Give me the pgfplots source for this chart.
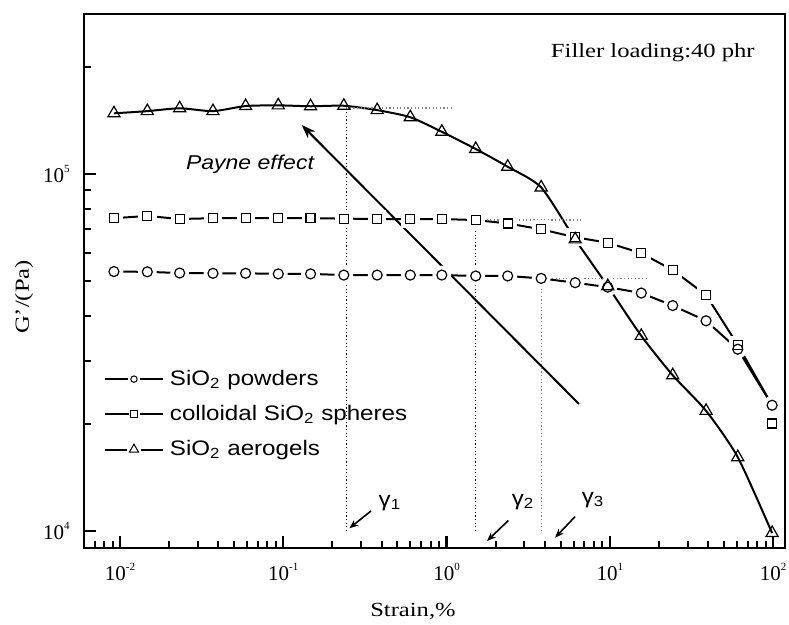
\documentclass[border=0pt]{standalone}
\usepackage{fontspec}
\setmainfont{Liberation Serif}
\newfontfamily\tickfont{Liberation Serif}
\newfontfamily\sansf{Liberation Sans}[FakeStretch=1.15]
\usepackage{pgfplots}
\usepackage{pgfplotstable}
\pgfplotsset{compat=1.18}
\usetikzlibrary{arrows.meta,calc}

\newcommand\pw[1]{\raisebox{4.9pt}{\fontsize{5.5}{6}\selectfont #1}}
\newcommand\wide[1]{\scalebox{1.23}[1]{#1}}

% strain (%) vs G' (Pa)
\pgfplotstableread{
x       y
0.00918 5.33e4
0.0147  5.32e4
0.0232  5.28e4
0.0371  5.27e4
0.0588  5.27e4
0.0932  5.25e4
0.147   5.25e4
0.235   5.21e4
0.376   5.21e4
0.600   5.21e4
0.936   5.21e4
1.51    5.18e4
2.37    5.18e4
3.80    5.10e4
6.14    4.96e4
9.72    4.82e4
15.6    4.64e4
24.3    4.28e4
38.9    3.88e4
60.8    3.23e4
98.7    2.25e4
}\powders

\pgfplotstableread{
x       y
0.00918 7.52e4
0.0147  7.63e4
0.0232  7.48e4
0.0371  7.52e4
0.0588  7.52e4
0.0932  7.52e4
0.147   7.52e4
0.235   7.50e4
0.376   7.48e4
0.600   7.48e4
0.936   7.48e4
1.51    7.43e4
2.37    7.27e4
3.80    7.00e4
6.14    6.65e4
9.72    6.42e4
15.6    6.00e4
24.3    5.38e4
38.9    4.58e4
60.8    3.32e4
98.7    2.00e4
}\spheres

\pgfplotstableread{
x       y
0.00918 1.479e5
0.0147  1.500e5
0.0232  1.528e5
0.0371  1.500e5
0.0588  1.550e5
0.0932  1.557e5
0.147   1.548e5
0.235   1.553e5
0.376   1.510e5
0.600   1.442e5
0.936   1.313e5
1.51    1.175e5
2.37    1.048e5
3.80    9.17e4
6.14    6.56e4
9.72    4.85e4
15.6    3.52e4
24.3    2.73e4
38.9    2.17e4
60.8    1.61e4
98.7    9.87e3
}\aerogels

\begin{document}
\begin{tikzpicture}
\begin{axis}[
  scale only axis, width=350.5pt, height=267pt,
  xmode=log, ymode=log,
  xmin=0.006018, xmax=118.4, ymin=8960, ymax=2.807e5,
  axis line style={line width=1.3pt},
  tick align=inside, tick pos=left,
  xtick={0.01,0.1,1,10,100},
  xticklabels={10\pw{-2},10\pw{-1},10\pw{0},10\pw{1},10\pw{2}},
  minor xtick={0.007,0.008,0.009,0.02,0.03,0.04,0.05,0.06,0.07,0.08,0.09,
    0.2,0.3,0.4,0.5,0.6,0.7,0.8,0.9,2,3,4,5,6,7,8,9,20,30,40,50,60,70,80,90},
  ytick={1e4,1e5},
  yticklabels={10\pw{4},10\pw{5}},
  minor ytick={2e4,3e4,4e4,5e4,6e4,7e4,8e4,9e4,2e5},
  major tick length=6pt, minor tick length=3.5pt,
  every major tick/.append style={line width=1.2pt, black},
  every minor tick/.append style={line width=1pt, black},
  xticklabel style={font=\tickfont\fontsize{10.5}{12}\selectfont, inner sep=0pt, yshift=-7.5pt},
  yticklabel style={font=\tickfont\fontsize{10.5}{12}\selectfont, inner sep=0pt, xshift=-7pt},
  xlabel={\wide{Strain,\%}},
  xlabel style={at={(axis description cs:0.4693,-0.1287)}, anchor=base, inner sep=0pt,
    font=\fontsize{10}{12}\selectfont},
  ylabel={\wide{G'/(Pa)}},
  ylabel style={at={(axis description cs:-0.0856,0.470)}, anchor=center, inner sep=0pt,
    font=\fontsize{10}{12}\selectfont},
  legend style={draw=none, fill=none, at={(axis description cs:0.0285,0.3333)},
    anchor=north west, inner sep=0pt, outer sep=0pt, row sep=8.5pt, column sep=3pt,
    font=\sansf\fontsize{10.5}{12}\selectfont, nodes={inner sep=0pt}},
  legend cell align=left,
]

% colloidal spheres
\addplot[black, line width=1pt, forget plot] table[skip coords between index={20}{21}] {\spheres};
\addplot[black, line width=1pt, forget plot] coordinates {(60.8,3.32e4) (98.7,2.25e4)};
\addplot[only marks, mark=square*, mark size=4.3pt, white, forget plot] table {\spheres};

% powders
\addplot[black, line width=1pt, forget plot] table {\powders};
\addplot[only marks, mark=*, mark size=4.5pt, white, forget plot] table {\powders};

\addplot[only marks, mark=o, mark size=2.5pt, black, mark options={fill=white, line width=0.6pt},
  legend image code/.code={
    \draw[line width=1pt] (0pt,0pt) -- (29pt,0pt);
    \fill[white] (14.5pt,0pt) circle (2.8pt);
    \draw[line width=0.5pt, fill=white] (14.5pt,0pt) circle (1.6pt);}
] table {\powders};
\addlegendentry{SiO\textsubscript{2} powders}

\addplot[only marks, mark=square, mark size=2.25pt, black, mark options={fill=white, line width=0.6pt},
  legend image code/.code={
    \draw[line width=1pt] (0pt,0pt) -- (29pt,0pt);
    \fill[white] (12pt,-2.7pt) rectangle (17pt,2.7pt);
    \draw[line width=0.5pt, fill=white] (12.75pt,-1.75pt) rectangle (16.25pt,1.75pt);}
] table {\spheres};
\addlegendentry{colloidal SiO\textsubscript{2} spheres}

% aerogels
\addplot[black, line width=1pt, smooth, tension=0.4, mark=triangle, mark size=3.5pt,
  mark options={fill=white, line width=0.6pt, solid},
  legend image code/.code={
    \draw[line width=1pt] (0pt,0pt) -- (29pt,0pt);
    \fill[white] (11.5pt,-2.2pt) rectangle (17.5pt,3.2pt);
    \draw[line width=0.5pt, fill=white] (12.2pt,-1.3pt) -- (16.8pt,-1.3pt) -- (14.5pt,2.7pt) -- cycle;}
] table {\aerogels};
\addlegendentry{SiO\textsubscript{2} aerogels}

% critical strain guides
\addplot[black, line width=0.6pt, dash pattern=on 0.6pt off 1.2pt] coordinates {(0.243,1e4) (0.243,1.53e5)};
\addplot[gray, line width=0.6pt, dash pattern=on 0.6pt off 1.2pt] coordinates {(0.243,1.53e5) (1.07,1.53e5)};
\addplot[black, line width=0.6pt, dash pattern=on 0.6pt off 1.2pt] coordinates {(1.51,1e4) (1.51,7.43e4)};
\addplot[gray, line width=0.6pt, dash pattern=on 0.6pt off 1.2pt] coordinates {(1.51,7.43e4) (6.84,7.43e4)};
\addplot[gray, line width=0.6pt, dash pattern=on 0.6pt off 1.2pt] coordinates {(3.80,1e4) (3.80,5.10e4)};
\addplot[gray, line width=0.6pt, dash pattern=on 0.6pt off 1.2pt] coordinates {(3.80,5.10e4) (17.1,5.10e4)};

\draw[line width=1pt, -{Stealth[length=7pt,width=5pt]}]
  (axis description cs:0.7061,0.2697) -- (axis description cs:0.3106,0.7921);
\node[font=\sansf\itshape\fontsize{10}{12}\selectfont, anchor=base, inner sep=0pt]
  at (axis description cs:0.2368,0.7097) {Payne effect};
\node[font=\fontsize{10}{12}\selectfont, anchor=base east, inner sep=0pt]
  at (axis description cs:0.9572,0.9176) {\wide{Filler loading:40 phr}};

\draw[line width=0.8pt, -{Stealth[length=4.5pt,width=3.5pt]}]
  (axis description cs:0.4094,0.0693) -- (axis description cs:0.3785,0.0369);
\draw[line width=0.8pt, -{Stealth[length=4.5pt,width=3.5pt]}]
  (axis description cs:0.6053,0.0515) -- (axis description cs:0.5749,0.0131);
\draw[line width=0.8pt, -{Stealth[length=4.5pt,width=3.5pt]}]
  (axis description cs:0.7004,0.0586) -- (axis description cs:0.6719,0.0193);
\node[font=\sansf\fontsize{10.5}{12}\selectfont, inner sep=0pt]
  at (axis description cs:0.4365,0.0843) {γ\textsubscript{1}};
\node[font=\sansf\fontsize{10.5}{12}\selectfont, inner sep=0pt]
  at (axis description cs:0.6263,0.0861) {γ\textsubscript{2}};
\node[font=\sansf\fontsize{10.5}{12}\selectfont, inner sep=0pt]
  at (axis description cs:0.7261,0.0899) {γ\textsubscript{3}};
\end{axis}
\pgfresetboundingbox
\path ($(current axis.south west)+(-42pt,-38pt)$) rectangle ($(current axis.north east)+(2pt,7pt)$);
\end{tikzpicture}
\end{document}
